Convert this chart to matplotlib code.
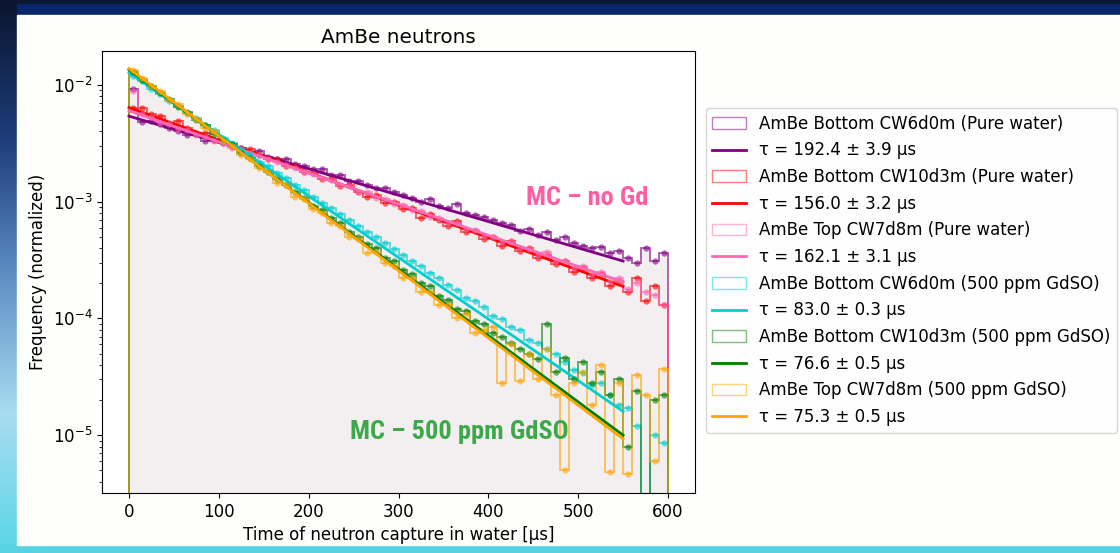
import numpy as np
import matplotlib.pyplot as plt
from matplotlib.patches import Patch, Rectangle
from matplotlib.lines import Line2D
from matplotlib.colors import LinearSegmentedColormap
from matplotlib import font_manager

# bin edges of the time histograms (10 us bins)
edges = np.arange(0, 610, 10)
centers = edges[:-1] + 5

# histogram contents (x 1e-3, normalized frequency)
purple_h = [9.3, 4.8, 4.9, 4.6, 4.3, 4.0, 3.7, 3.9, 3.3, 3.4, 3.2, 3.0, 2.9, 2.6, 2.7,
            2.4, 2.3, 2.3, 2.1, 2.0, 1.9, 1.9, 1.7, 1.7, 1.5, 1.5, 1.4, 1.3, 1.3, 1.2,
            1.15, 1.08, 1.0, 1.05, 0.92, 0.88, 0.95, 0.80, 0.77, 0.74, 0.70, 0.66, 0.63, 0.56, 0.58,
            0.52, 0.55, 0.47, 0.50, 0.44, 0.42, 0.40, 0.41, 0.36, 0.38, 0.33, 0.30, 0.40, 0.31, 0.36]
red_h = [6.4, 6.3, 5.6, 5.4, 4.6, 4.9, 4.3, 3.8, 3.9, 3.4, 3.3, 3.0, 2.9, 2.8, 2.5,
         2.3, 2.3, 2.0, 2.0, 1.8, 1.75, 1.55, 1.55, 1.35, 1.40, 1.20, 1.10, 1.15, 0.98, 1.00,
         0.86, 0.88, 0.72, 0.78, 0.70, 0.62, 0.68, 0.55, 0.56, 0.48, 0.50, 0.42, 0.46, 0.38, 0.40,
         0.33, 0.35, 0.29, 0.31, 0.25, 0.27, 0.22, 0.24, 0.19, 0.21, 0.17, 0.22, 0.14, 0.19, 0.13]
pink_h = [8.8, 5.6, 5.3, 4.7, 4.6, 4.2, 4.1, 3.7, 3.6, 3.3, 3.2, 2.9, 2.8, 2.6, 2.5,
          2.3, 2.2, 2.05, 1.95, 1.8, 1.72, 1.58, 1.52, 1.40, 1.35, 1.22, 1.20, 1.08, 1.06, 0.95,
          0.93, 0.84, 0.83, 0.74, 0.73, 0.66, 0.65, 0.58, 0.57, 0.51, 0.50, 0.45, 0.45, 0.40, 0.39,
          0.35, 0.37, 0.31, 0.31, 0.27, 0.28, 0.24, 0.25, 0.21, 0.22, 0.18, 0.20, 0.17, 0.16, 0.13]
cyan_h = [12.0, 10.8, 9.3, 8.4, 7.3, 6.6, 5.7, 5.2, 4.5, 4.1, 3.5, 3.2, 2.8, 2.55, 2.2,
          2.0, 1.75, 1.58, 1.38, 1.25, 1.10, 0.98, 0.88, 0.78, 0.70, 0.62, 0.55, 0.50, 0.44, 0.39,
          0.35, 0.31, 0.28, 0.245, 0.22, 0.195, 0.175, 0.15, 0.14, 0.125, 0.105, 0.098, 0.085, 0.080, 0.065,
          0.062, 0.055, 0.050, 0.042, 0.036, 0.034, 0.027, 0.028, 0.022, 0.018, 0.017, 0.012, 0.0, 0.010, 0.0085]
green_h = [13.0, 11.0, 9.8, 8.5, 7.6, 6.5, 5.9, 5.0, 4.5, 3.8, 3.4, 3.1, 2.6, 2.35, 2.0,
           1.8, 1.55, 1.40, 1.20, 1.08, 0.92, 0.84, 0.72, 0.65, 0.55, 0.50, 0.43, 0.40, 0.33, 0.31,
           0.26, 0.24, 0.20, 0.19, 0.155, 0.145, 0.12, 0.115, 0.095, 0.090, 0.075, 0.070, 0.062, 0.055, 0.050,
           0.045, 0.089, 0.035, 0.046, 0.030, 0.042, 0.028, 0.035, 0.022, 0.030, 0.008, 0.024, 0.0, 0.020, 0.022]
orange_h = [13.5, 11.5, 9.7, 8.8, 7.4, 6.8, 5.6, 5.1, 4.3, 4.0, 3.3, 3.0, 2.5, 2.3, 1.95,
            1.80, 1.45, 1.38, 1.10, 1.05, 0.86, 0.80, 0.65, 0.62, 0.50, 0.48, 0.36, 0.37, 0.30, 0.28,
            0.22, 0.22, 0.17, 0.17, 0.13, 0.13, 0.10, 0.11, 0.075, 0.080, 0.085, 0.028, 0.060, 0.029, 0.050,
            0.030, 0.055, 0.022, 0.005, 0.028, 0.035, 0.018, 0.040, 0.0048, 0.028, 0.0047, 0.033, 0.022, 0.006, 0.037]

hists = [purple_h, red_h, pink_h, cyan_h, green_h, orange_h]
colors = ['purple', 'red', 'hotpink', 'darkturquoise', 'green', 'orange']
labels = ['AmBe Bottom CW6d0m (Pure water)', 'AmBe Bottom CW10d3m (Pure water)',
          'AmBe Top CW7d8m (Pure water)', 'AmBe Bottom CW6d0m (500 ppm GdSO)',
          'AmBe Bottom CW10d3m (500 ppm GdSO)', 'AmBe Top CW7d8m (500 ppm GdSO)']
taus = ['192.4 ± 3.9', '156.0 ± 3.2', '162.1 ± 3.1', '83.0 ± 0.3', '76.6 ± 0.5', '75.3 ± 0.5']

# exponential fits: value at t=0 and at t=550 us
fit_t = [0, 550]
fit_start = [5.4e-3, 6.4e-3, 6.0e-3, 1.27e-2, 1.35e-2, 1.38e-2]
fit_end = [3.1e-4, 1.88e-4, 2.05e-4, 1.6e-5, 1.0e-5, 9.3e-6]


def pick_font(names):
    for n in names:
        try:
            font_manager.findfont(font_manager.FontProperties(family=n, weight='bold'),
                                  fallback_to_default=False)
            return n
        except ValueError:
            pass
    return None


W, H = 1120, 553
fig = plt.figure(figsize=(W / 100, H / 100), dpi=100)

# slide background
bg = fig.add_axes([0, 0, 1, 1], zorder=-10)
bg.axis('off')
bg.add_patch(Rectangle((0, 0), W, H, color='#0c1830', zorder=0))
cmap = LinearSegmentedColormap.from_list('edge', ['#0b1530', '#1d3d7a', '#5f8fc4', '#a9dcf2', '#5ad6e6'])
bg.imshow(np.linspace(0, 1, 200).reshape(-1, 1), cmap=cmap, extent=[0, 17, H, 0],
          aspect='auto', zorder=1)
bg.add_patch(Rectangle((17, 4), W - 17, 11, color='#08266a', zorder=2))
bg.add_patch(Rectangle((0, 545), W, 8, color='#55d3e3', zorder=2))
bg.add_patch(Rectangle((17, 15), W - 17, 530, color='#fefefc', zorder=3))
bg.set_xlim(0, W)
bg.set_ylim(H, 0)

ax = fig.add_axes([102 / W, 1 - 493 / H, 593 / W, 442 / H])
fs = 12

# light shading under all histograms
env = np.max(np.array(hists), axis=0) * 1e-3
ax.stairs(env, edges, fill=True, color='#f3eff1', lw=0, zorder=0.5)

handles = []
for h, c, lab, tau, a, b in zip(hists, colors, labels, taus, fit_start, fit_end):
    vals = np.array(h) * 1e-3
    ax.stairs(vals, edges, color=c, alpha=0.6, lw=1.4)
    ax.plot(centers, np.where(vals > 0, vals, np.nan), 'o', color=c, alpha=0.6, ms=4.5, mew=0)
    ax.plot(fit_t, [a, b], color=c, lw=2)
    handles.append(Patch(facecolor='none', edgecolor=c, alpha=0.5, label=lab))
    handles.append(Line2D([], [], color=c, lw=2, label='τ = ' + tau + ' μs'))

ax.set_yscale('log')
ax.set_xlim(-30, 630)
ax.set_ylim(3.2e-6, 1.95e-2)
ax.set_xticks([0, 100, 200, 300, 400, 500, 600])
ax.tick_params(labelsize=fs)
ax.set_title('AmBe neutrons', fontsize=fs * 1.2)
ax.set_xlabel('Time of neutron capture in water [μs]', fontsize=fs)
ax.set_ylabel('Frequency (normalized)', fontsize=fs)

ax.legend(handles=handles, loc='upper left', bbox_to_anchor=(1.018, 0.871),
          fontsize=fs, labelspacing=0.52, borderaxespad=0)

narrow = pick_font(['Roboto Condensed', 'Liberation Sans Narrow', 'DejaVu Sans Condensed'])
if narrow:
    fam, mc_fs = [narrow, 'DejaVu Sans'], 19
else:
    fam, mc_fs = ['DejaVu Sans'], 14
fig.text(587 / W, 1 - 198 / H, 'MC – no Gd', color='#ff5fa2', fontsize=mc_fs,
         fontweight='bold', family=fam, ha='center', va='center')
fig.text(459 / W, 1 - 432 / H, 'MC – 500 ppm GdSO', color='#3da84a', fontsize=mc_fs,
         fontweight='bold', family=fam, ha='center', va='center')

fig.savefig('out.png', dpi=100)
